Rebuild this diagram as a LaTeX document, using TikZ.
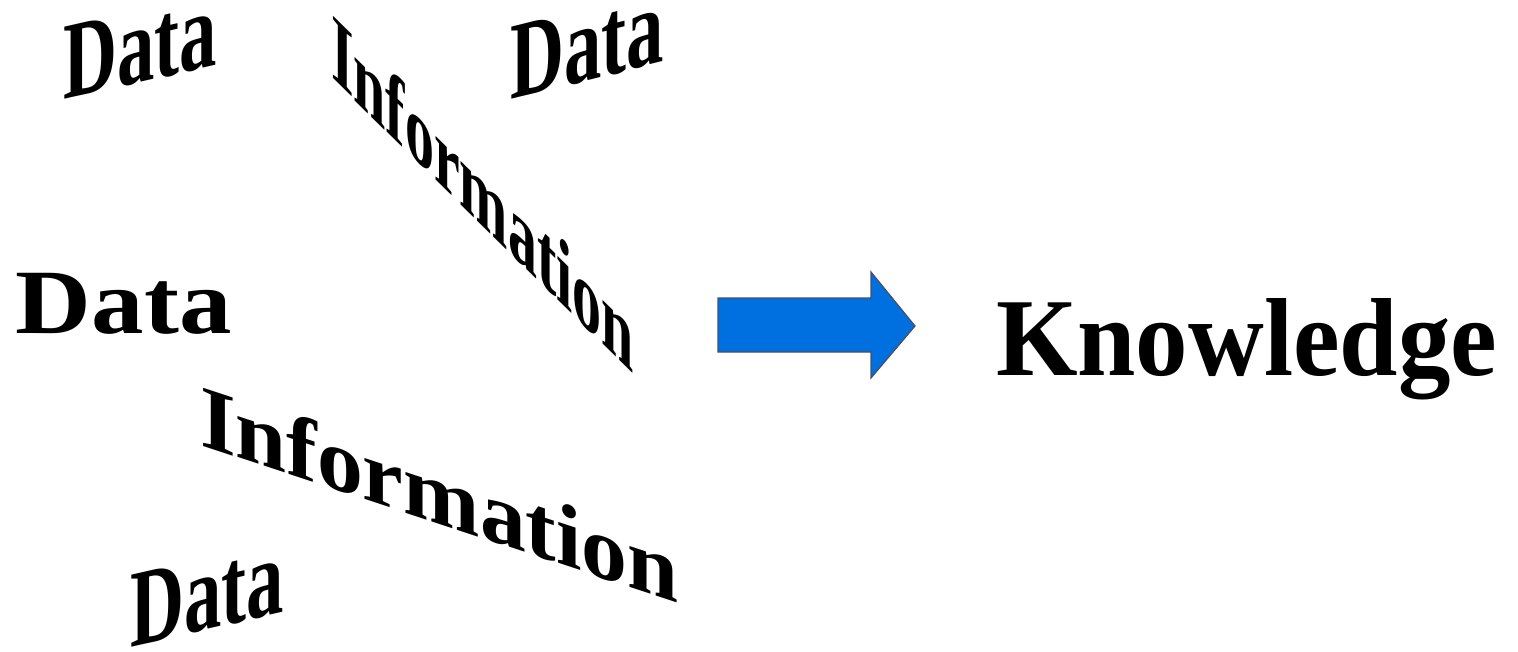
\documentclass[tikz,border=0pt]{standalone}
\usepackage{fontspec}
\setmainfont{Liberation Serif}
\definecolor{arrowblue}{RGB}{0,112,224}
\definecolor{arrowedge}{RGB}{70,80,100}
\begin{document}
\begin{tikzpicture}[x=0.5pt,y=-0.5pt,
  word/.style={inner sep=0pt,outer sep=0pt,anchor=base west,font=\bfseries},
  bigarrow/.style={fill=arrowblue,draw=arrowedge,line width=0.6pt,line join=miter}]
\useasboundingbox (0,0) rectangle (1518,652);
% tilted "Data" words
\node[word,font=\bfseries\fontsize{55pt}{60pt}\selectfont,cm={0.68,0.156,0,1,(0,0)}] (d1) at (63,100) {Data};
\node[word,font=\bfseries\fontsize{55pt}{60pt}\selectfont,cm={0.68,0.17,0,1,(0,0)}] (d2) at (510,100) {Data};
\node[word,font=\bfseries\fontsize{55pt}{60pt}\selectfont,cm={0.68,0.156,0,1,(0,0)}] (d4) at (130,647) {Data};
% straight "Data"
\node[word,font=\bfseries\fontsize{46pt}{50pt}\selectfont,cm={1.14,0,0,1,(0,0)}] (d3) at (16,333) {Data};
% diagonal "Information"
\node[word,font=\bfseries\fontsize{47.5pt}{52pt}\selectfont,cm={0.61,-0.60,0,1,(0,0)}] (i1) at (331,77) {Information};
% lower "Information"
\node[word,font=\bfseries\fontsize{44.5pt}{50pt}\selectfont,cm={1.03,-0.34,0,1,(0,0)}] (i2) at (200,445) {Information};
% arrow
\draw[bigarrow] (718,298) -- (871,298) -- (871,272) -- (915,326) -- (871,378) -- (871,352) -- (718,352) -- cycle;
% Knowledge
\node[word,font=\bfseries\fontsize{55.5pt}{60pt}\selectfont,cm={0.945,0,0,1,(0,0)}] (k) at (996,375) {Knowledge};
\end{tikzpicture}
\end{document}
